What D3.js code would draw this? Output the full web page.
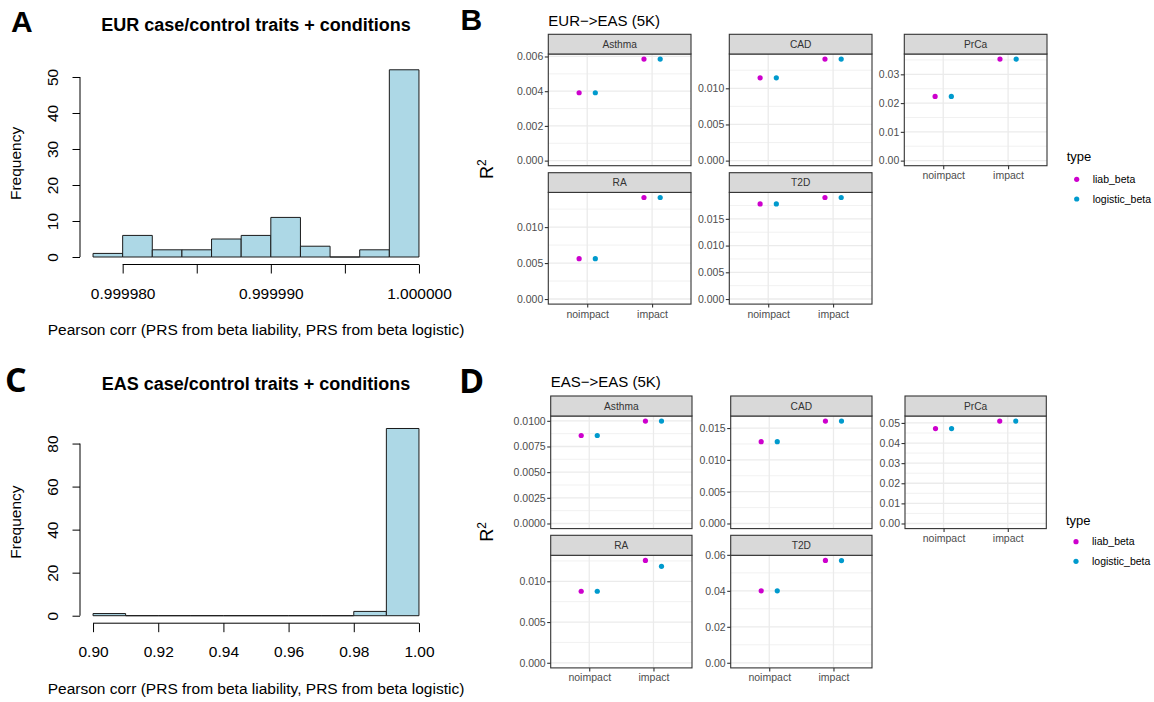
<!DOCTYPE html>
<html>
<head>
<meta charset="utf-8">
<script src="https://cdn.jsdelivr.net/npm/d3@7"></script>
<style>
  body { margin: 0; background: #fff; }
  svg { display: block; font-family: "Liberation Sans", Arial, Helvetica, sans-serif; }
</style>
</head>
<body>
<svg id="fig" width="1154" height="702"></svg>
<script>
// ---------- Histogram data: correlation between PRS built from liability and logistic betas ----------
const eurBinEdges = [0.999978, 0.999980, 0.999982, 0.999984, 0.999986, 0.999988,
                     0.999990, 0.999992, 0.999994, 0.999996, 0.999998, 1.000000];
const eurBinCounts = [1, 6, 2, 2, 5, 6, 11, 3, 0, 2, 52];
const eurXTicks = [0.999980, 0.999985, 0.999990, 0.999995, 1.000000];
const eurXTickLabels = ["0.999980", "", "0.999990", "", "1.000000"];
const eurYTicks = [0, 10, 20, 30, 40, 50];

const easBinEdges = [0.90, 0.91, 0.92, 0.93, 0.94, 0.95, 0.96, 0.97, 0.98, 0.99, 1.00];
const easBinCounts = [1, 0, 0, 0, 0, 0, 0, 0, 2, 87];
const easXTicks = [0.90, 0.92, 0.94, 0.96, 0.98, 1.00];
const easXTickLabels = ["0.90", "0.92", "0.94", "0.96", "0.98", "1.00"];
const easYTicks = [0, 20, 40, 60, 80];

// ---------- R2 by trait, impact group and beta type ----------
const traits = ["Asthma", "CAD", "PrCa", "RA", "T2D"];
const impactLevels = ["noimpact", "impact"];
const betaTypes = ["liab_beta", "logistic_beta"];

const eurEasNoimpactLiab     = [0.00391, 0.01145, 0.0223, 0.00561, 0.0178];
const eurEasNoimpactLogistic = [0.00391, 0.01145, 0.0223, 0.00561, 0.0178];
const eurEasImpactLiab       = [0.00585, 0.01404, 0.0353, 0.01412, 0.0190];
const eurEasImpactLogistic   = [0.00585, 0.01404, 0.0353, 0.01412, 0.0190];
const eurEasTickLabels = [
  ["0.000", "0.002", "0.004", "0.006"],
  ["0.000", "0.005", "0.010"],
  ["0.00", "0.01", "0.02", "0.03"],
  ["0.000", "0.005", "0.010"],
  ["0.000", "0.005", "0.010", "0.015"]
];

const easEasNoimpactLiab     = [0.00857, 0.01286, 0.0472, 0.00878, 0.0400];
const easEasNoimpactLogistic = [0.00857, 0.01286, 0.0472, 0.00878, 0.0400];
const easEasImpactLiab       = [0.00997, 0.01609, 0.0509, 0.01256, 0.0569];
const easEasImpactLogistic   = [0.00997, 0.01609, 0.0509, 0.01183, 0.0568];
const easEasTickLabels = [
  ["0.0000", "0.0025", "0.0050", "0.0075", "0.0100"],
  ["0.000", "0.005", "0.010", "0.015"],
  ["0.00", "0.01", "0.02", "0.03", "0.04", "0.05"],
  ["0.000", "0.005", "0.010"],
  ["0.00", "0.02", "0.04", "0.06"]
];

const typeColors = ["#CD00CD", "#009ACD"];
const xTitleText = "Pearson corr (PRS from beta liability, PRS from beta logistic)";
const baseFont = "Liberation Sans, Arial, sans-serif";

const svg = d3.select("#fig");

// ---------- base-graphics style histogram ----------
function drawHistogram(opt) {
  const g = svg.append("g");
  const reg = opt.region;
  const ext = d3.extent(opt.edges);
  const padX = (ext[1] - ext[0]) * 0.04;
  const x = d3.scaleLinear().domain([ext[0] - padX, ext[1] + padX]).range([reg.left, reg.right]);
  const cmax = d3.max(opt.counts);
  const y = d3.scaleLinear().domain([-cmax * 0.04, cmax * 1.04]).range([reg.bottom, reg.top]);

  const bins = opt.counts.map((c, i) => ({ x0: opt.edges[i], x1: opt.edges[i + 1], c }));
  g.selectAll("path.bar").data(bins).join("path")
    .attr("class", "bar")
    .attr("d", b => `M${x(b.x0)},${y(0)}V${y(b.c)}H${x(b.x1)}V${y(0)}Z`)
    .attr("fill", "#ADD8E6")
    .attr("stroke", "#1a1a1a")
    .attr("stroke-width", 1);

  // x axis
  const xa = g.append("g").attr("transform", `translate(0,${reg.bottom})`)
    .call(d3.axisBottom(x).tickValues(opt.xTicks).tickFormat((d, i) => opt.xLabels[i]).tickSize(9).tickSizeOuter(0));
  xa.select(".domain").remove();
  xa.append("line")
    .attr("x1", x(opt.xTicks[0])).attr("x2", x(opt.xTicks[opt.xTicks.length - 1]))
    .attr("stroke", "#000");
  xa.selectAll(".tick line").attr("stroke", "#000");
  xa.selectAll(".tick text").attr("y", 34).attr("dy", null)
    .attr("fill", "#000").style("font-size", "15.5px").style("font-family", baseFont);

  // y axis
  const ya = g.append("g").attr("transform", `translate(${reg.left},0)`)
    .call(d3.axisLeft(y).tickValues(opt.yTicks).tickSize(7.5).tickSizeOuter(0));
  ya.select(".domain").remove();
  ya.append("line")
    .attr("y1", y(opt.yTicks[0])).attr("y2", y(opt.yTicks[opt.yTicks.length - 1]))
    .attr("stroke", "#000");
  ya.selectAll(".tick line").attr("stroke", "#000");
  ya.selectAll(".tick text")
    .attr("x", null).attr("dy", null)
    .attr("transform", "translate(-22,0) rotate(-90)")
    .attr("text-anchor", "middle")
    .attr("fill", "#000").style("font-size", "15.5px").style("font-family", baseFont);

  const cx = (reg.left + reg.right) / 2;
  g.append("text").attr("x", cx).attr("y", reg.top - 31.5)
    .attr("text-anchor", "middle").attr("font-weight", "bold").attr("font-size", 18)
    .text(opt.title);
  g.append("text").attr("x", cx).attr("y", reg.bottom + 70.7)
    .attr("text-anchor", "middle").attr("font-size", 15.5)
    .text(xTitleText);
  g.append("text")
    .attr("transform", `translate(${reg.left - 59.5},${(reg.top + reg.bottom) / 2}) rotate(-90)`)
    .attr("text-anchor", "middle").attr("font-size", 15.5)
    .text("Frequency");
}

// ---------- faceted dot plot ----------
function drawFacets(opt) {
  const g = svg.append("g");
  const series = [
    [opt.noLiab, opt.noLogit],
    [opt.imLiab, opt.imLogit]
  ];

  traits.forEach((trait, i) => {
    const r = i < 3 ? 0 : 1, c = i % 3;
    const left = opt.cols[c], right = left + opt.width;
    const stripTop = opt.rows[r];
    const top = stripTop + opt.stripH, bottom = top + opt.panelH;

    const x = d3.scalePoint().domain(impactLevels).range([left, right]).padding(0.6);
    const vals = [opt.noLiab[i], opt.noLogit[i], opt.imLiab[i], opt.imLogit[i]];
    const vmax = d3.max(vals);
    const y = d3.scaleLinear().domain([-vmax * 0.05, vmax * 1.05]).range([bottom, top]);

    const labels = opt.tickLabels[i];
    const ticks = labels.map(Number);
    const step = ticks[1] - ticks[0];
    const minor = [];
    for (let k = -1; k <= ticks.length; k++) {
      const v = ticks[0] + (k + 0.5) * step;
      if (v >= y.domain()[0] && v <= y.domain()[1]) minor.push(v);
    }

    const p = g.append("g");
    p.append("rect").attr("x", left).attr("y", top).attr("width", opt.width).attr("height", opt.panelH)
      .attr("fill", "#fff");
    p.selectAll("line.minor").data(minor).join("line").attr("class", "minor")
      .attr("x1", left).attr("x2", right).attr("y1", d => y(d)).attr("y2", d => y(d))
      .attr("stroke", "#EBEBEB").attr("stroke-width", 0.7);
    p.selectAll("line.majy").data(ticks).join("line").attr("class", "majy")
      .attr("x1", left).attr("x2", right).attr("y1", d => y(d)).attr("y2", d => y(d))
      .attr("stroke", "#EBEBEB").attr("stroke-width", 1.3);
    p.selectAll("line.majx").data(impactLevels).join("line").attr("class", "majx")
      .attr("x1", d => x(d)).attr("x2", d => x(d)).attr("y1", top).attr("y2", bottom)
      .attr("stroke", "#EBEBEB").attr("stroke-width", 1.3);

    const dodge = x.step() * 0.125;
    const pts = [];
    impactLevels.forEach((lev, li) => {
      betaTypes.forEach((bt, ti) => {
        pts.push({ lev, ti, v: series[li][ti][i] });
      });
    });
    p.selectAll("circle").data(pts).join("circle")
      .attr("cx", d => x(d.lev) + (d.ti === 0 ? -dodge : dodge))
      .attr("cy", d => y(d.v))
      .attr("r", 2.6)
      .attr("fill", d => typeColors[d.ti]);

    p.append("rect").attr("x", left).attr("y", top).attr("width", opt.width).attr("height", opt.panelH)
      .attr("fill", "none").attr("stroke", "#333").attr("stroke-width", 1.1);

    // strip
    p.append("rect").attr("x", left).attr("y", stripTop).attr("width", opt.width).attr("height", opt.stripH)
      .attr("fill", "#D9D9D9").attr("stroke", "#333").attr("stroke-width", 1.1);
    p.append("text").attr("x", (left + right) / 2).attr("y", stripTop + opt.stripH / 2 + 3.6)
      .attr("text-anchor", "middle").attr("font-size", 10.2).attr("fill", "#333")
      .text(trait);

    // y axis
    const ya = p.append("g").attr("transform", `translate(${left},0)`)
      .call(d3.axisLeft(y).tickValues(ticks).tickFormat((d, j) => labels[j]).tickSize(3.5).tickPadding(1.5));
    ya.select(".domain").remove();
    ya.selectAll(".tick line").attr("stroke", "#333").attr("stroke-width", 1.1);
    ya.selectAll(".tick text").attr("fill", "#4D4D4D")
      .style("font-size", "10.5px").style("font-family", baseFont);

    // x axis only under the bottom panel of each column
    if (i >= 2) {
      const xa = p.append("g").attr("transform", `translate(0,${bottom})`)
        .call(d3.axisBottom(x).tickSize(3.5).tickPadding(2.5));
      xa.select(".domain").remove();
      xa.selectAll(".tick line").attr("stroke", "#333").attr("stroke-width", 1.1);
      xa.selectAll(".tick text").attr("fill", "#4D4D4D")
        .style("font-size", "10.5px").style("font-family", baseFont);
    }
  });

  // plot title
  g.append("text").attr("x", opt.cols[0]).attr("y", opt.titleY)
    .attr("font-size", 15).attr("fill", "#000").text(opt.title);

  // y axis title
  const yt = g.append("text")
    .attr("transform", `translate(${opt.r2X},${(opt.rows[0] + opt.rows[1] + opt.stripH + opt.panelH) / 2}) rotate(-90)`)
    .attr("text-anchor", "middle").attr("font-size", 18).attr("fill", "#000");
  yt.append("tspan").text("R");
  yt.append("tspan").attr("baseline-shift", "super").attr("font-size", 12).text("2");

  // legend
  const lg = g.append("g");
  lg.append("text").attr("x", opt.legend.x).attr("y", opt.legend.titleY)
    .attr("font-size", 13).attr("fill", "#000").text("type");
  betaTypes.forEach((bt, k) => {
    const ky = opt.legend.keyY[k];
    lg.append("circle").attr("cx", opt.legend.x + 10).attr("cy", ky).attr("r", 2.6).attr("fill", typeColors[k]);
    lg.append("text").attr("x", opt.legend.x + 26).attr("y", ky + 3.7)
      .attr("font-size", 10.5).attr("fill", "#000").text(bt);
  });
}

// ---------- panel letters ----------
function letter(ch, xPos, yPos, family, size) {
  svg.append("text").attr("x", xPos).attr("y", yPos)
    .attr("font-family", family).attr("font-weight", "bold").attr("font-size", size)
    .attr("fill", "#000").text(ch);
}

drawHistogram({
  edges: eurBinEdges, counts: eurBinCounts,
  xTicks: eurXTicks, xLabels: eurXTickLabels, yTicks: eurYTicks,
  region: { left: 80, right: 432, top: 62.3, bottom: 264.5 },
  title: "EUR case/control traits + conditions"
});
drawHistogram({
  edges: easBinEdges, counts: easBinCounts,
  xTicks: easXTicks, xLabels: easXTickLabels, yTicks: easYTicks,
  region: { left: 80, right: 432, top: 421, bottom: 623.2 },
  title: "EAS case/control traits + conditions"
});

drawFacets({
  title: "EUR\u2212>EAS (5K)", titleY: 25.8,
  cols: [548.3, 729.3, 904.3], width: 142.7,
  rows: [34.3, 172.7], stripH: 19.7, panelH: 111.7,
  noLiab: eurEasNoimpactLiab, noLogit: eurEasNoimpactLogistic,
  imLiab: eurEasImpactLiab, imLogit: eurEasImpactLogistic,
  tickLabels: eurEasTickLabels,
  r2X: 493,
  legend: { x: 1066.7, titleY: 161.3, keyY: [179.3, 199] }
});
drawFacets({
  title: "EAS\u2212>EAS (5K)", titleY: 386.8,
  cols: [550.7, 730.7, 905], width: 141.3,
  rows: [396, 535.3], stripH: 20, panelH: 112.6,
  noLiab: easEasNoimpactLiab, noLogit: easEasNoimpactLogistic,
  imLiab: easEasImpactLiab, imLogit: easEasImpactLogistic,
  tickLabels: easEasTickLabels,
  r2X: 493,
  legend: { x: 1066, titleY: 524.5, keyY: [541.7, 561.3] }
});

letter("A", 11, 31.7, baseFont, 30);
letter("B", 460.5, 30, baseFont, 30);
letter("C", 5, 392, "Open Sans, sans-serif", 34);
letter("D", 459, 392.5, "Open Sans, sans-serif", 34);
</script>
</body>
</html>
